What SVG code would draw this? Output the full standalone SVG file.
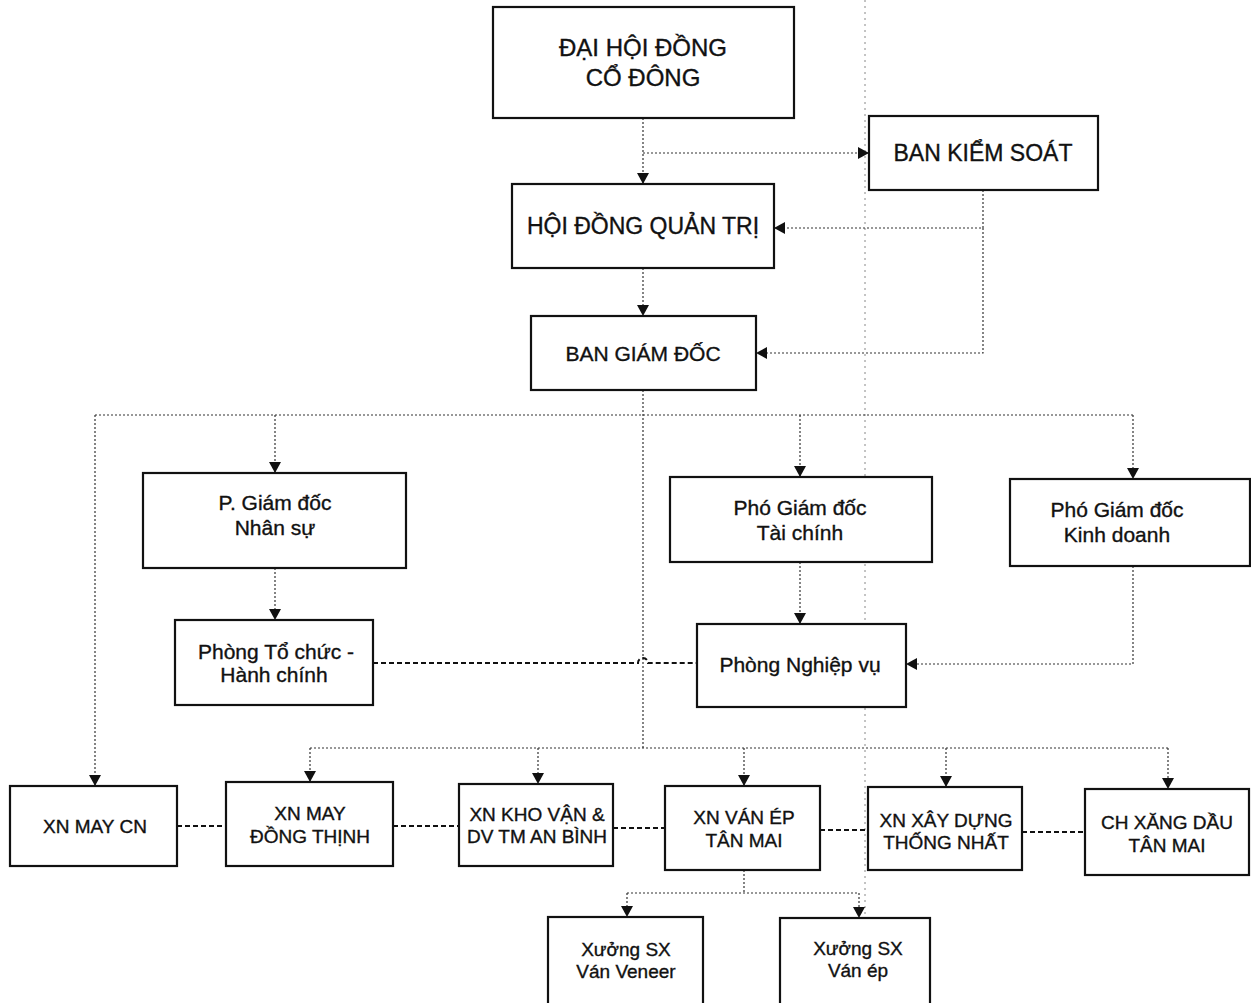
<svg xmlns="http://www.w3.org/2000/svg" width="1251" height="1003" viewBox="0 0 1251 1003">
<style>
.box{fill:#fff;stroke:#111;stroke-width:2.2}
.t{font-family:"Liberation Sans",Arial,sans-serif;font-size:19px;fill:#111;stroke:#111;stroke-width:0.35;text-anchor:middle}
.xl{font-size:24px}
.l{font-size:23px}
.m{font-size:21px}
.dot{fill:none;stroke:#333;stroke-width:1.2;stroke-dasharray:2 2}
.dash{fill:none;stroke:#111;stroke-width:2;stroke-dasharray:5 3}
.fold{fill:none;stroke:#888;stroke-width:1;stroke-dasharray:2 4}
</style>
<defs>
<marker id="ah" markerUnits="userSpaceOnUse" markerWidth="11" markerHeight="12" viewBox="0 0 11 12" refX="11" refY="6" orient="auto">
<path d="M0,0 L11,6 L0,12 z" fill="#111"/>
</marker>
</defs>
<rect width="1251" height="1003" fill="#fff"/>
<line class="fold" x1="865" y1="0" x2="865" y2="1003"/>
<g id="connectors">
<path class="dot" d="M643,118 V184" marker-end="url(#ah)"/>
<path class="dot" d="M643,153 H869" marker-end="url(#ah)"/>
<path class="dot" d="M983,190 V228 H774" marker-end="url(#ah)"/>
<path class="dot" d="M983,228 V353 H756" marker-end="url(#ah)"/>
<path class="dot" d="M643,268 V316" marker-end="url(#ah)"/>
<path class="dot" d="M643,390 V748"/>
<path class="dot" d="M95,415 H1133"/>
<path class="dot" d="M95,415 V786" marker-end="url(#ah)"/>
<path class="dot" d="M275,415 V473" marker-end="url(#ah)"/>
<path class="dot" d="M800,415 V477" marker-end="url(#ah)"/>
<path class="dot" d="M1133,415 V479" marker-end="url(#ah)"/>
<path class="dot" d="M275,568 V620" marker-end="url(#ah)"/>
<path class="dot" d="M800,562 V624" marker-end="url(#ah)"/>
<path class="dot" d="M1133,566 V664 H906" marker-end="url(#ah)"/>
<path class="dash" d="M373,663 H638 A5,5 0 0 1 648,663 H697"/>
<path class="dot" d="M310,748 H1168"/>
<path class="dot" d="M310,748 V782" marker-end="url(#ah)"/>
<path class="dot" d="M538,748 V784" marker-end="url(#ah)"/>
<path class="dot" d="M744,748 V786" marker-end="url(#ah)"/>
<path class="dot" d="M946,748 V787" marker-end="url(#ah)"/>
<path class="dot" d="M1168,748 V789" marker-end="url(#ah)"/>
<path class="dash" d="M177,826 H226"/>
<path class="dash" d="M393,826 H459"/>
<path class="dash" d="M613,828 H665"/>
<path class="dash" d="M820,830 H868"/>
<path class="dash" d="M1022,832 H1085"/>
<path class="dot" d="M744,870 V893"/>
<path class="dot" d="M627,893 H859"/>
<path class="dot" d="M627,893 V917" marker-end="url(#ah)"/>
<path class="dot" d="M859,893 V918" marker-end="url(#ah)"/>
</g>
<g id="dhdcd"><rect class="box" x="493" y="7" width="301" height="111"/><text class="t xl" x="643" y="56">ĐẠI HỘI ĐỒNG</text><text class="t xl" x="643" y="86">CỔ ĐÔNG</text></g>
<g id="bks"><rect class="box" x="869" y="116" width="229" height="74"/><text class="t l" x="983" y="161">BAN KIỂM SOÁT</text></g>
<g id="hdqt"><rect class="box" x="512" y="184" width="262" height="84"/><text class="t l" x="643" y="234">HỘI ĐỒNG QUẢN TRỊ</text></g>
<g id="bgd"><rect class="box" x="531" y="316" width="225" height="74"/><text class="t m" x="643" y="361">BAN GIÁM ĐỐC</text></g>
<g id="pgd-ns"><rect class="box" x="143" y="473" width="263" height="95"/><text class="t m" x="275" y="510">P. Giám đốc</text><text class="t m" x="275" y="535">Nhân sự</text></g>
<g id="pgd-tc"><rect class="box" x="670" y="477" width="262" height="85"/><text class="t m" x="800" y="515">Phó Giám đốc</text><text class="t m" x="800" y="540">Tài chính</text></g>
<g id="pgd-kd"><rect class="box" x="1010" y="479" width="240" height="87"/><text class="t m" x="1117" y="517">Phó Giám đốc</text><text class="t m" x="1117" y="542">Kinh doanh</text></g>
<g id="p-tchc"><rect class="box" x="175" y="620" width="198" height="85"/><text class="t m" x="276" y="659">Phòng Tổ chức -</text><text class="t m" x="274" y="682">Hành chính</text></g>
<g id="p-nv"><rect class="box" x="697" y="624" width="209" height="83"/><text class="t m" x="800" y="672">Phòng Nghiệp vụ</text></g>
<g id="xn-may-cn"><rect class="box" x="10" y="786" width="167" height="80"/><text class="t" x="95" y="833">XN MAY CN</text></g>
<g id="xn-may-dt"><rect class="box" x="226" y="782" width="167" height="84"/><text class="t" x="310" y="820">XN MAY</text><text class="t" x="310" y="843">ĐỒNG THỊNH</text></g>
<g id="xn-kho-van"><rect class="box" x="459" y="784" width="154" height="82"/><text class="t" x="537" y="821">XN KHO VẬN &amp;</text><text class="t" x="537" y="843">DV TM AN BÌNH</text></g>
<g id="xn-van-ep"><rect class="box" x="665" y="786" width="155" height="84"/><text class="t" x="744" y="824">XN VÁN ÉP</text><text class="t" x="744" y="847">TÂN MAI</text></g>
<g id="xn-xay-dung"><rect class="box" x="868" y="787" width="154" height="83"/><text class="t" x="946" y="827">XN XÂY DỰNG</text><text class="t" x="946" y="849">THỐNG NHẤT</text></g>
<g id="ch-xang-dau"><rect class="box" x="1085" y="789" width="164" height="86"/><text class="t" x="1167" y="829">CH XĂNG DẦU</text><text class="t" x="1167" y="852">TÂN MAI</text></g>
<g id="xuong-veneer"><rect class="box" x="548" y="917" width="155" height="90"/><text class="t" x="626" y="956">Xưởng SX</text><text class="t" x="626" y="978">Ván Veneer</text></g>
<g id="xuong-van-ep"><rect class="box" x="780" y="918" width="150" height="90"/><text class="t" x="858" y="955">Xưởng SX</text><text class="t" x="858" y="977">Ván ép</text></g>
</svg>
